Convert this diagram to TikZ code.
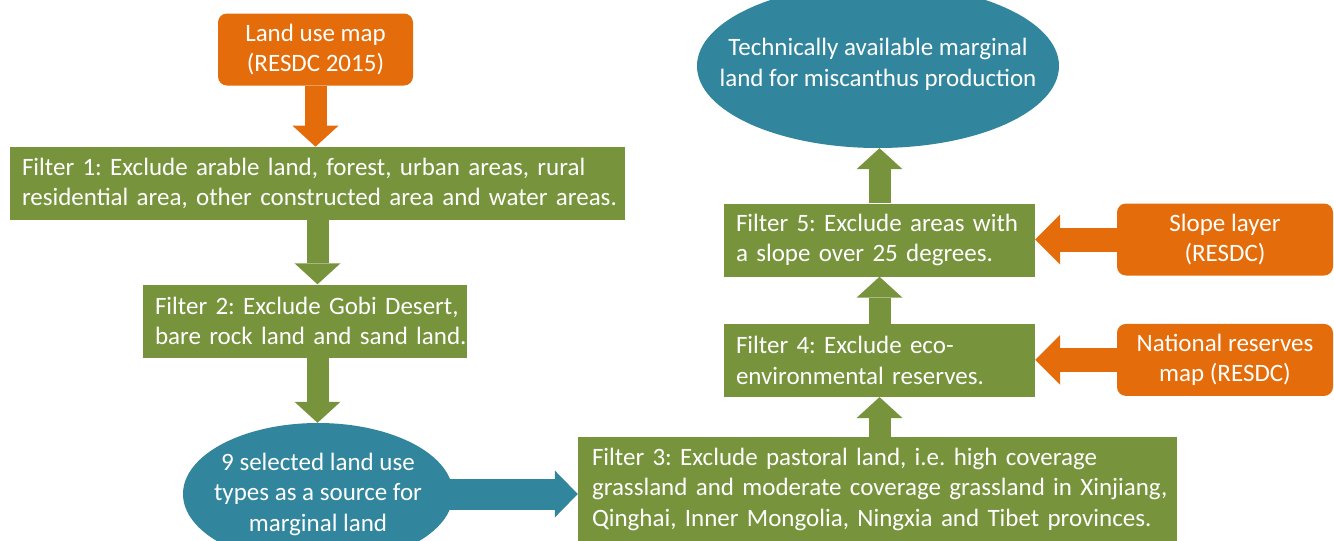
\documentclass[tikz,border=0pt]{standalone}
\usepackage{fontspec}
\setmainfont{Carlito}
\usepackage{tikz}
\usetikzlibrary{positioning}
\usetikzlibrary{arrows.meta}
\usetikzlibrary{shapes.geometric}

\definecolor{srcorange}{HTML}{E46C0A}
\definecolor{filtgreen}{HTML}{77933C}
\definecolor{ovalteal}{HTML}{31859C}

\begin{document}
\begin{tikzpicture}[x=1pt, y=-1pt,
    font=\fontsize{25}{30.5}\selectfont\frenchspacing,
    src/.style={fill=srcorange, text=white, rounded corners=9pt, align=center,
        minimum width=216pt, minimum height=72pt, inner sep=0pt},
    filt/.style={fill=filtgreen, text=white, text width=#1,
        execute at begin node={\raggedright\rightskip=-40pt plus 1fil\relax},
        inner xsep=12pt, inner ysep=0pt, minimum height=73pt},
    oval/.style={ellipse, fill=ovalteal, inner sep=0pt},
    ovaltext/.style={text=white, align=center, inner sep=0pt},
    vflow/.style={line width=22pt,
        -{Triangle[width=46pt, length=21pt, line width=0pt]}},
    hflow/.style={srcorange, line width=24pt,
        -{Triangle[width=50pt, length=25pt, line width=0pt]}},
    tealflow/.style={ovalteal, line width=31pt,
        -{Triangle[width=47pt, length=23pt, line width=0pt]}}]

    \useasboundingbox (0,0) rectangle (1334,541);
    \clip (0,0) rectangle (1334,541);

    % left column
    \node(lum) [src, minimum width=195pt] at (315.5,49.5) {Land use map\\(RESDC 2015)};
    \node(f1) [filt=591pt, below=61pt of lum, xshift=2pt]
        {Filter 1: Exclude arable land, forest, urban areas, rural\\residential area, other constructed area and water areas.};
    \node(f2) [filt=300pt] at (305,321)
        {Filter 2: Exclude Gobi Desert,\\bare rock land and sand land.};
    \node(sel) [oval, minimum width=270pt, minimum height=142pt] at (318,494) {};

    % right column
    \node(f3) [filt=571pt, inner xsep=14pt, minimum height=104pt] at (877.5,489)
        {Filter 3: Exclude pastoral land, i.e. high coverage\\grassland and moderate coverage grassland in Xinjiang,\\Qinghai, Inner Mongolia, Ningxia and Tibet provinces.};
    \node(f5) [filt=287pt] at (879.5,240)
        {Filter 5: Exclude areas with\\a slope over 25 degrees.};
    \node(f4) [filt=287pt, below=47pt of f5]
        {Filter 4: Exclude eco-\\environmental reserves.};
    \node(tam) [oval, minimum width=362pt, minimum height=164pt] at (878,66) {};

    % data layers
    \node(slope) [src] at (1225,239.5) {Slope layer\\(RESDC)};
    \node(resv) [src, below=48pt of slope] {National reserves\\map (RESDC)};

    \draw[vflow, srcorange] (lum.south) -- (lum.south |- f1.north);
    \draw[vflow, filtgreen] (f1.south) -- (f1.south |- f2.north);
    \draw[vflow, filtgreen] (f1.south |- f2.south) -- (f1.south |- sel.north);
    \draw[tealflow] ([xshift=-10pt]sel.east) -- (sel.east -| f3.west);
    \draw[vflow, filtgreen] (f4.south |- f3.north) -- (f4.south);
    \draw[vflow, filtgreen] (f4.north) -- (f5.south);
    \draw[vflow, filtgreen] (f5.north) -- (f5.north |- tam.south);
    \draw[hflow] (slope.west) -- (slope.west -| f5.east);
    \draw[hflow] (resv.west) -- (resv.west -| f4.east);

    % oval texts
    \node(seltext) [ovaltext] at (sel) {9 selected land use\\types as a source for\\marginal land};
    \node(tamtext) [ovaltext, yshift=1.5pt] at (tam) {Technically available marginal\\land for miscanthus production};
\end{tikzpicture}
\end{document}
